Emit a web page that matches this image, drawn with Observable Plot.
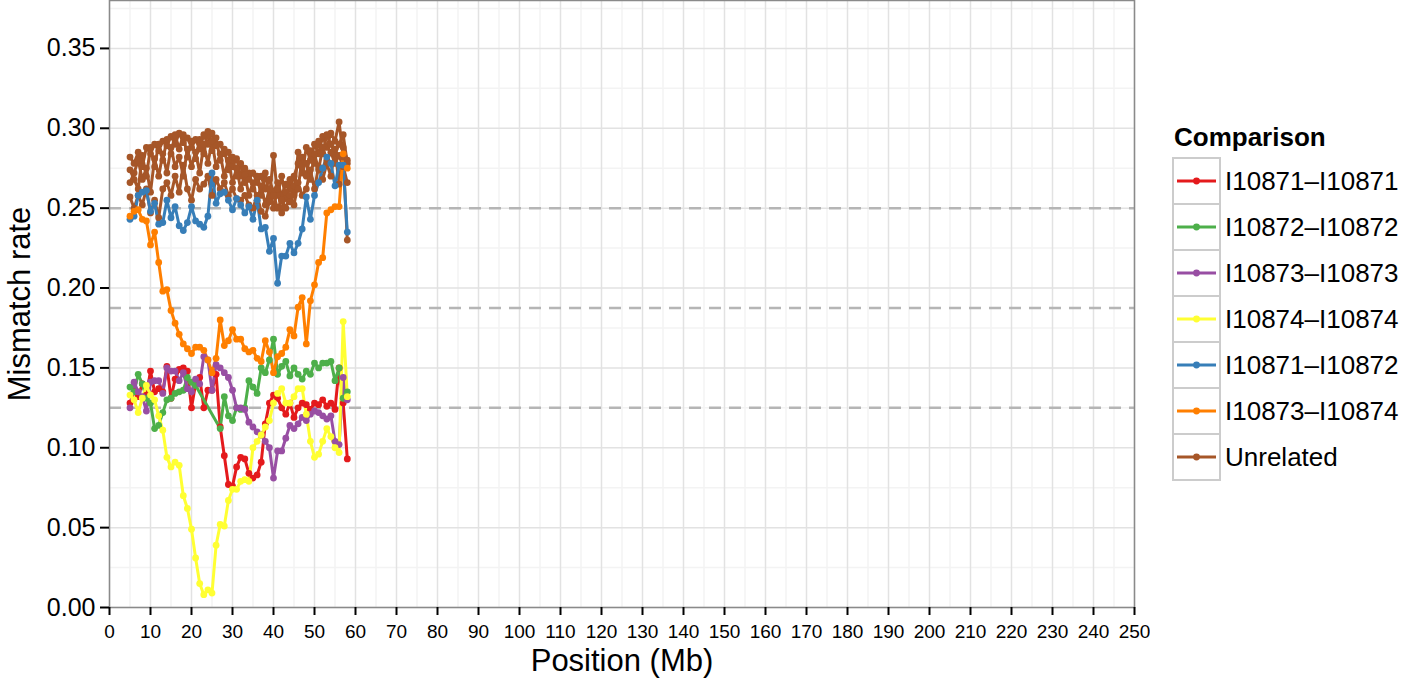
<!DOCTYPE html>
<html>
<head>
<meta charset="utf-8">
<script src="https://cdn.jsdelivr.net/npm/d3@7"></script>
<script src="https://cdn.jsdelivr.net/npm/@observablehq/plot@0.6"></script>
<style>
  html, body { margin: 0; padding: 0; background: #ffffff; }
  #wrap { position: relative; width: 1406px; height: 679px; overflow: hidden; }
  #chart { position: absolute; left: 0; top: 0; }
  #legend { position: absolute; left: 1160px; top: 110px; }
  text { font-family: "Liberation Sans", Arial, Helvetica, sans-serif; }
</style>
</head>
<body>
<div id="wrap"><div id="chart"></div><div id="legend"></div></div>
<script>
// ---------- data ----------
const positions = [5,6,7,8,9,10,11,12,13,14,15,16,17,18,19,20,21,22,23,24,25,26,27,28,29,30,31,32,33,34,35,36,37,38,39,40,41,42,43,44,45,46,47,48,49,50,51,52,53,54,55,56,57,58];

const comparisons = ["I10871–I10871","I10872–I10872","I10873–I10873","I10874–I10874","I10871–I10872","I10873–I10874","Unrelated"];
const colors = ["#E41A1C","#4DAF4A","#984EA3","#FFFF33","#377EB8","#FF7F00","#A65628"];

const red = [0.128,0.135,0.132,0.140,0.133,0.148,0.135,0.137,0.135,0.151,0.131,0.143,0.149,0.150,0.148,0.125,0.140,0.144,0.125,0.136,0.136,0.146,0.113,0.095,0.077,0.076,0.088,0.094,0.093,0.084,0.081,0.083,0.091,0.115,0.128,0.133,0.131,0.125,0.121,0.128,0.119,0.125,0.128,0.127,0.124,0.128,0.127,0.130,0.126,0.128,0.124,0.150,0.128,0.093];
const green = [0.138,0.135,0.146,0.140,0.131,0.128,0.112,0.114,0.122,0.130,0.131,0.134,0.135,0.136,0.144,0.141,0.139,null,null,null,null,null,0.112,0.132,0.120,0.117,0.125,0.124,0.125,0.142,0.138,0.134,0.150,0.147,0.155,0.168,0.146,0.151,0.154,0.145,0.150,0.146,0.143,0.148,0.146,0.153,0.150,0.153,0.153,0.154,0.142,0.150,0.131,0.135];
const purple = [0.125,0.141,0.135,0.132,0.123,0.141,0.142,0.142,0.134,0.150,0.148,0.148,0.142,0.147,0.137,0.135,0.143,0.140,0.157,0.155,0.136,0.152,0.150,0.147,0.144,0.136,0.125,0.125,0.124,0.116,0.113,0.110,0.108,0.104,0.100,0.081,0.098,0.098,0.106,0.114,0.112,0.115,0.119,0.117,0.121,0.123,0.122,0.120,0.118,0.120,0.104,0.102,0.144,0.130];
const yellow = [0.133,0.130,0.122,0.131,0.139,0.133,0.130,0.120,0.111,0.094,0.088,0.091,0.089,0.070,0.062,0.049,0.031,0.015,0.008,0.011,0.009,0.039,0.052,0.051,0.067,0.074,0.074,0.079,0.080,0.079,0.100,0.104,0.108,0.113,0.117,0.128,0.134,0.137,0.128,0.128,0.132,0.137,0.137,0.121,0.104,0.094,0.096,0.104,0.112,0.107,0.100,0.097,0.179,0.132];
const blue = [0.243,0.245,0.258,0.260,0.261,0.248,0.253,0.240,0.241,0.255,0.244,0.251,0.239,0.236,0.241,0.251,0.242,0.240,0.238,0.245,0.272,0.253,0.259,0.260,0.255,0.249,0.256,0.252,0.247,0.251,0.243,0.255,0.237,0.238,0.223,0.231,0.203,0.220,0.220,0.228,0.222,0.228,0.237,0.257,0.243,0.258,0.266,0.275,0.282,0.278,0.264,0.277,0.277,0.235];
const orange = [0.245,0.248,0.249,0.243,0.242,0.227,0.235,0.216,0.198,0.199,0.186,0.178,0.171,0.165,0.162,0.159,0.163,0.163,0.161,0.155,0.147,0.156,0.180,0.164,0.167,0.174,0.168,0.168,0.162,0.160,0.161,0.156,0.154,0.167,0.160,0.147,0.157,0.159,0.163,0.174,0.170,0.188,0.194,0.165,0.192,0.202,0.216,0.219,0.247,0.249,0.251,0.251,0.284,0.275];
const unrelatedA = [0.282,0.278,0.285,0.276,0.288,0.284,0.290,0.286,0.292,0.289,0.295,0.290,0.297,0.291,0.294,0.288,0.293,0.287,0.296,0.290,0.297,0.289,0.290,0.284,0.285,0.276,0.281,0.270,0.275,0.268,0.272,0.266,0.270,0.262,0.268,0.260,0.266,0.258,0.265,0.262,0.270,0.278,0.272,0.288,0.280,0.290,0.284,0.295,0.288,0.297,0.292,0.304,0.282,0.230];
const unrelatedB = [0.274,0.268,0.262,0.283,0.270,0.288,0.276,0.290,0.280,0.293,0.284,0.296,0.287,0.296,0.282,0.292,0.281,0.293,0.284,0.298,0.286,0.294,0.280,0.287,0.274,0.282,0.270,0.278,0.266,0.272,0.262,0.270,0.258,0.272,0.256,0.283,0.258,0.270,0.256,0.268,0.258,0.285,0.276,0.270,0.286,0.278,0.292,0.284,0.296,0.290,0.284,0.290,0.296,0.278];
const unrelatedC = [0.266,0.272,0.280,0.268,0.275,0.260,0.281,0.270,0.284,0.272,0.288,0.276,0.282,0.270,0.287,0.276,0.285,0.272,0.290,0.278,0.292,0.276,0.284,0.270,0.280,0.266,0.275,0.262,0.271,0.258,0.266,0.255,0.264,0.252,0.262,0.250,0.262,0.247,0.260,0.254,0.264,0.262,0.282,0.278,0.268,0.284,0.274,0.288,0.280,0.285,0.278,0.283,0.276,0.266];
const unrelatedD = [0.257,0.250,0.258,0.252,0.262,0.247,0.255,0.244,0.262,0.266,0.258,0.270,0.260,0.277,0.262,0.255,0.268,0.262,0.265,0.270,0.258,0.268,0.262,0.266,0.258,0.262,0.256,0.255,0.258,0.252,0.250,0.258,0.248,0.245,0.254,0.258,0.250,0.255,0.250,0.258,0.252,0.266,0.258,0.262,0.274,0.262,0.276,0.268,0.278,0.270,0.287,0.265,0.288,0.280];

const thresholds = [0.25, 0.1875, 0.125];

// ---------- assemble ----------
const series = [
  {comparison: "Unrelated", group: "U1", values: unrelatedA},
  {comparison: "Unrelated", group: "U2", values: unrelatedB},
  {comparison: "Unrelated", group: "U3", values: unrelatedC},
  {comparison: "Unrelated", group: "U4", values: unrelatedD},
  {comparison: comparisons[0], group: "R", values: red},
  {comparison: comparisons[1], group: "G", values: green},
  {comparison: comparisons[2], group: "P", values: purple},
  {comparison: comparisons[4], group: "B", values: blue},
  {comparison: comparisons[5], group: "O", values: orange},
  {comparison: comparisons[3], group: "Y", values: yellow}
];
const rows = [];
for (const s of series) {
  s.values.forEach((v, i) => {
    if (v != null) rows.push({pos: positions[i], value: v, comparison: s.comparison, group: s.group});
  });
}

const majorX = d3.range(0, 251, 10);
const minorX = d3.range(5, 250, 10);
const majorY = d3.range(0, 8).map(i => i * 0.05);
const minorY = d3.range(0, 8).map(i => i * 0.05 + 0.025);

const chart = Plot.plot({
  width: 1150,
  height: 679,
  marginLeft: 109,
  marginRight: 16,
  marginTop: 0,
  marginBottom: 72,
  x: {domain: [0, 250]},
  y: {domain: [0, 0.38]},
  color: {domain: comparisons, range: colors},
  style: {fontFamily: "'Liberation Sans', Arial, Helvetica, sans-serif", background: "white", color: "black"},
  marks: [
    Plot.gridX(minorX, {stroke: "#f3f3f3", strokeOpacity: 1, strokeWidth: 1.5}),
    Plot.gridY(minorY, {stroke: "#f3f3f3", strokeOpacity: 1, strokeWidth: 1.5}),
    Plot.gridX(majorX, {stroke: "#e2e2e2", strokeOpacity: 1, strokeWidth: 1.5}),
    Plot.gridY(majorY, {stroke: "#e2e2e2", strokeOpacity: 1, strokeWidth: 1.5}),
    Plot.ruleY(thresholds, {stroke: "#b5b5b5", strokeWidth: 2.5, strokeDasharray: "12,8"}),
    Plot.line(rows, {x: "pos", y: "value", z: "group", stroke: "comparison", strokeWidth: 3}),
    Plot.dot(rows, {x: "pos", y: "value", fill: "comparison", r: 3.4}),
    Plot.frame({stroke: "#8a8a8a", strokeWidth: 1.5}),
    Plot.axisX({ticks: majorX, tickSize: 8, tickPadding: 9, fontSize: 19, strokeWidth: 2, label: null}),
    Plot.axisY({ticks: majorY, tickSize: 9, tickPadding: 5, fontSize: 25, strokeWidth: 2, tickFormat: d3.format(".2f"), label: null}),
    Plot.text(["Position (Mb)"], {frameAnchor: "bottom", dy: 63, fontSize: 31, fill: "black", textAnchor: "middle"}),
    Plot.text(["Mismatch rate"], {frameAnchor: "left", dx: -89, rotate: -90, fontSize: 31, fill: "black", textAnchor: "middle"})
  ]
});
document.getElementById("chart").appendChild(chart);

// ---------- legend ----------
const lg = d3.select("#legend").append("svg").attr("width", 246).attr("height", 400);
lg.append("text").attr("x", 14).attr("y", 36).attr("font-size", 26).attr("font-weight", "bold").text("Comparison");
comparisons.forEach((c, i) => {
  const top = 48 + 46 * i;
  const g = lg.append("g");
  g.append("rect").attr("x", 13).attr("y", top).attr("width", 47).attr("height", 46)
    .attr("fill", "white").attr("stroke", "#cccccc").attr("stroke-width", 2);
  g.append("line").attr("x1", 17).attr("x2", 56).attr("y1", top + 23).attr("y2", top + 23)
    .attr("stroke", colors[i]).attr("stroke-width", 3);
  g.append("circle").attr("cx", 36.5).attr("cy", top + 23).attr("r", 3.4).attr("fill", colors[i]);
  g.append("text").attr("x", 65).attr("y", top + 32).attr("font-size", 26).text(c);
});
</script>
</body>
</html>
